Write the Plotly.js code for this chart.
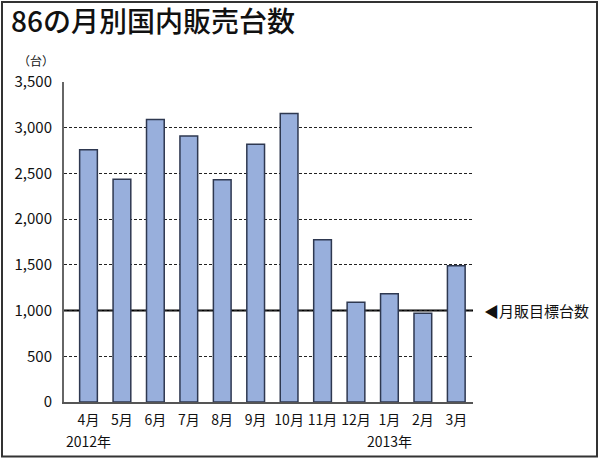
<!DOCTYPE html>
<html>
<head>
<meta charset="utf-8">
<script src="https://cdn.plot.ly/plotly-3.0.1.min.js"></script>
<style>
html,body{margin:0;padding:0;background:#fff;}
#chart{width:600px;height:459px;}
</style>
</head>
<body>
<div id="chart"></div>
<script>
const months = ["4月","5月","6月","7月","8月","9月","10月","11月","12月","1月","2月","3月"];
const sales = [2760, 2435, 3090, 2910, 2430, 2820, 3155, 1775, 1090, 1185, 970, 1490];
const target = 1000;
const yearLabels = [{cat:"4月", text:"2012年"}, {cat:"1月", text:"2013年"}];
const yTicks = [0,500,1000,1500,2000,2500,3000,3500];

const FONT = "Noto Sans CJK JP, Noto Sans, sans-serif";
const L = 64, R = 473, T = 82, B = 402.5, W = 600, H = 459;
const px = v => (v - L) / (R - L);
const py = v => (B - v) / (B - T);

const trace = {
  type: "bar",
  x: months,
  y: sales,
  marker: {color: "#98afdc", line: {color: "#2e3850", width: 1.5}},
  hoverinfo: "x+y"
};

const annotations = [
  {xref: "paper", yref: "paper", x: px(36), y: py(60), text: "（台）", showarrow: false,
   font: {family: FONT, size: 12, color: "#111"}, xanchor: "center", yanchor: "middle"},
  {xref: "paper", yref: "y", x: px(482), y: target, text: "◀月販目標台数", showarrow: false,
   font: {family: FONT, size: 15, color: "#111"}, xanchor: "left", yanchor: "middle"}
];
yearLabels.forEach(o => annotations.push({
  xref: "x", yref: "paper", x: o.cat, y: py(442), text: o.text, showarrow: false,
  font: {family: FONT, size: 14, color: "#111"}, xanchor: "center", yanchor: "middle"
}));

const layout = {
  width: W, height: H,
  margin: {l: L, r: W - R, t: T, b: H - B, pad: 0},
  paper_bgcolor: "#fff", plot_bgcolor: "#fff",
  showlegend: false,
  bargap: 0.47,
  title: {text: "86の月別国内販売台数", x: 11 / W, xanchor: "left", xref: "container",
          y: 1 - 22 / H, yanchor: "middle", yref: "container",
          font: {family: FONT, size: 28, color: "#111", weight: 500}},
  xaxis: {
    type: "category", tickvals: months, ticktext: months, tickangle: 0,
    showgrid: false, zeroline: false, showline: true, linecolor: "#555", linewidth: 2,
    ticks: "", tickfont: {family: FONT, size: 14, color: "#111"}, ticklabelstandoff: 4,
    fixedrange: true
  },
  yaxis: {
    range: [0, 3500], tickvals: yTicks, tickformat: ",d",
    showgrid: true, gridcolor: "#222", gridwidth: 1, griddash: "3px,2px",
    zeroline: false, showline: true, linecolor: "#666", linewidth: 2,
    ticks: "", tickfont: {family: FONT, size: 15, color: "#111"}, ticklabelstandoff: 7,
    fixedrange: true
  },
  shapes: [
    {type: "line", xref: "paper", yref: "y", x0: 0, x1: 1, y0: target, y1: target,
     line: {color: "#000", width: 2}, layer: "between"},
    {type: "rect", xref: "paper", yref: "paper", x0: px(2), x1: px(597), y0: py(2), y1: py(457),
     line: {color: "#333", width: 2}, fillcolor: "rgba(0,0,0,0)", layer: "above"}
  ],
  annotations: annotations
};

Plotly.newPlot("chart", [trace], layout, {displayModeBar: false, staticPlot: true});
</script>
</body>
</html>
